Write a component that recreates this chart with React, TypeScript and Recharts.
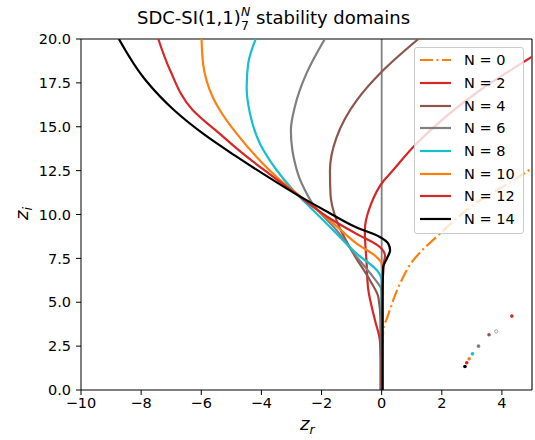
import React from 'react';
import {
  ComposedChart,
  Line,
  Scatter,
  XAxis,
  YAxis,
  ReferenceLine,
  Legend,
} from 'recharts';

// curves are x(y): listed bottom -> top so monotoneY can follow them
const n0Zr = [0.03, 0.06, 0.19, 0.61, 1.05, 1.94, 3.27, 4.38, 5.0];
const n0Zi = [2.6, 3.5, 4.15, 6.06, 7.39, 8.91, 10.81, 11.95, 12.64];

const n2Zr = [0.01, -0.06, -0.22, -0.45, -0.5, -0.56, -0.39, 0.08, 0.28, 1.16, 3.27, 4.99];
const n2Zi = [0, 2.82, 3.96, 5.77, 7.2, 9.1, 10.43, 11.95, 12.33, 14.04, 17.08, 18.98];

const n4Zr = [-0.04, -0.04, -0.11, -0.39, -0.94, -1.5, -1.7, -1.72, -1.5, -0.83, 0, 1.22];
const n4Zi = [0, 3.96, 5.29, 6.25, 7.77, 9.67, 11.1, 12.5, 14.4, 16.5, 18.13, 20];

const n6Zr = [0.02, -0.01, -0.28, -0.83, -1.5, -2.3, -2.55, -2.75, -2.88, -2.97, -3.02, -2.89, -2.5, -1.89];
const n6Zi = [0, 5.68, 6.43, 7.58, 9.1, 10.62, 11.38, 12.14, 12.9, 13.66, 14.8, 16.13, 18.04, 20];

const n8Zr = [0.02, 0.0, -0.11, -0.83, -1.72, -2.28, -2.94, -3.49, -4.05, -4.38, -4.49, -4.44, -4.19];
const n8Zi = [0, 6.25, 6.72, 7.77, 9.29, 10.24, 11.38, 12.52, 14.04, 15.76, 17.27, 18.6, 20];

const n10Zr = [0.02, 0.03, 0, -0.17, -0.83, -1.72, -2.68, -3.49, -4.16, -4.83, -5.38, -5.62, -5.94, -5.99];
const n10Zi = [0, 6.25, 7.2, 7.58, 8.34, 9.67, 11.0, 12.14, 13.28, 14.62, 15.94, 16.7, 18.6, 20];

const n12Zr = [0.02, 0.03, 0.06, 0.11, -0.06, -0.85, -1.8, -2.92, -3.75, -4.55, -5.4, -6.28, -7.04, -7.43];
const n12Zi = [0, 5.7, 7.1, 7.67, 8.15, 8.91, 9.86, 11.28, 12.33, 13.38, 14.62, 15.94, 18.23, 20];

const n14Zr = [0.03, 0.03, 0.05, 0.17, 0.28, 0.22, -0.06, -0.85, -1.78, -2.88, -3.78, -4.9, -5.95, -6.9, -7.85, -8.74];
const n14Zi = [0, 5.1, 7.0, 7.48, 7.96, 8.34, 8.72, 9.27, 10.13, 11.19, 12.14, 13.38, 14.62, 15.94, 17.65, 20];

// the little markers in the lower right
const dotZr = [2.77, 2.83, 2.91, 3.02, 3.22, 3.57, 3.81, 4.33];
const dotZi = [1.34, 1.55, 1.78, 2.06, 2.5, 3.15, 3.34, 4.21];
const dotColors = ['#000000', '#d62728', '#ff7f0e', '#17becf', '#7f7f7f', '#8c564b', 'none', '#d62728'];

const labels = ['N = 0', 'N = 2', 'N = 4', 'N = 6', 'N = 8', 'N = 10', 'N = 12', 'N = 14'];
const colors = ['#ff7f0e', '#d62728', '#8c564b', '#7f7f7f', '#17becf', '#ff7f0e', '#d62728', '#000000'];

const xTicks = [-10, -8, -6, -4, -2, 0, 2, 4];
const yTicks = [0, 2.5, 5, 7.5, 10, 12.5, 15, 17.5, 20];

const FONT = '"DejaVu Sans", sans-serif';
const DASHDOT = '13 3.5 2 3.5';

const zip = (xs: number[], ys: number[]) => xs.map((x, i) => ({ x, y: ys[i] }));

const curves = [
  zip(n0Zr, n0Zi),
  zip(n2Zr, n2Zi),
  zip(n4Zr, n4Zi),
  zip(n6Zr, n6Zi),
  zip(n8Zr, n8Zi),
  zip(n10Zr, n10Zi),
  zip(n12Zr, n12Zi),
  zip(n14Zr, n14Zi),
];

const dots = dotZr.map((x, i) => ({ x, y: dotZi[i], c: dotColors[i] }));

const fmtX = (v: number) => (v < 0 ? '\u2212' + Math.abs(v) : String(v));
const fmtY = (v: number) => v.toFixed(1);

const LegendBox = () => (
  <div
    style={{
      border: '1px solid #cccccc',
      borderRadius: 3,
      background: 'rgba(255,255,255,0.8)',
      padding: '1px 0 3px 5px',
      fontFamily: FONT,
      fontSize: 14.5,
      color: '#000',
      boxSizing: 'border-box',
      width: 110,
    }}
  >
    {labels.map((l, i) => (
      <div key={l} style={{ display: 'flex', alignItems: 'center', height: 22.67 }}>
        <svg width={31} height={6} style={{ display: 'block' }}>
          <line
            x1={0}
            y1={3}
            x2={31}
            y2={3}
            stroke={colors[i]}
            strokeWidth={2.2}
            strokeDasharray={i === 0 ? DASHDOT : undefined}
          />
        </svg>
        <span style={{ marginLeft: 13, whiteSpace: 'nowrap' }}>{l}</span>
      </div>
    ))}
  </div>
);

const Dot = (p: any) => {
  const c = p.payload.c;
  if (c === 'none') {
    return <circle cx={p.cx} cy={p.cy} r={1.6} fill="#fff" stroke="#8a8a8a" strokeWidth={0.8} />;
  }
  return <circle cx={p.cx} cy={p.cy} r={1.8} fill={c} />;
};

export default function App() {
  return (
    <div style={{ position: 'absolute', left: 0, top: 0, width: 535, height: 440, fontFamily: FONT }}>
      <ComposedChart width={535} height={440} margin={{ top: 39, right: 3, bottom: 0, left: 0 }}>
        <XAxis
          type="number"
          dataKey="x"
          domain={[-10, 5]}
          ticks={xTicks}
          tickFormatter={fmtX}
          allowDataOverflow
          height={50}
          tickSize={5}
          tickMargin={3}
          stroke="#000"
          tick={{ fill: '#000', fontSize: 14.5, fontFamily: FONT }}
        />
        <YAxis
          type="number"
          dataKey="y"
          domain={[0, 20]}
          ticks={yTicks}
          tickFormatter={fmtY}
          allowDataOverflow
          width={81}
          tickSize={5}
          tickMargin={5}
          stroke="#000"
          tick={{ fill: '#000', fontSize: 14.5, fontFamily: FONT }}
        />
        <ReferenceLine x={0} stroke="#808080" strokeWidth={1.8} />
        <ReferenceLine y={20} stroke="#000" strokeWidth={1.1} />
        <ReferenceLine x={5} stroke="#000" strokeWidth={1.1} />
        {curves.map((d, i) => (
          <Line
            key={labels[i]}
            data={d}
            dataKey="y"
            name={labels[i]}
            type="monotoneY"
            stroke={colors[i]}
            strokeWidth={2.2}
            strokeDasharray={i === 0 ? DASHDOT : undefined}
            dot={false}
            activeDot={false}
            isAnimationActive={false}
          />
        ))}
        <Scatter data={dots} dataKey="y" shape={Dot} isAnimationActive={false} />
        <Legend
          layout="horizontal"
          verticalAlign="middle"
          align="center"
          content={() => <LegendBox />}
          wrapperStyle={{ top: 47, left: 414, width: 110, height: 'auto' }}
        />
      </ComposedChart>
      <svg
        width={535}
        height={440}
        style={{ position: 'absolute', left: 0, top: 0, pointerEvents: 'none' }}
        fontFamily={FONT}
      >
        <text x={137} y={24} fontSize={18} fill="#000">SDC-SI(1,1)</text>
        <text x={241} y={16} fontSize={12.5} fontStyle="italic" fill="#000">N</text>
        <text x={241} y={30} fontSize={12.5} fill="#000">7</text>
        <text x={256} y={24} fontSize={18} fill="#000">stability domains</text>
        <text x={300} y={430} fontSize={18} fill="#000">
          <tspan fontStyle="italic">z</tspan>
          <tspan fontStyle="italic" fontSize={12.5} dy={4}>r</tspan>
        </text>
        <g transform="rotate(-90 28 214)">
          <text x={22} y={214} fontSize={18} fill="#000">
            <tspan fontStyle="italic">z</tspan>
            <tspan fontStyle="italic" fontSize={12.5} dy={4}>i</tspan>
          </text>
        </g>
      </svg>
    </div>
  );
}
